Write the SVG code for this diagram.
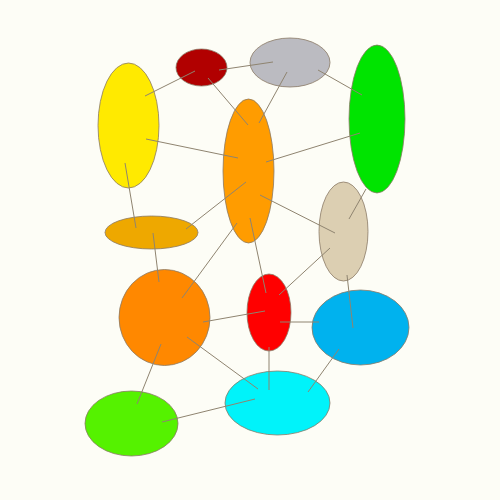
<svg xmlns="http://www.w3.org/2000/svg" width="500" height="500" viewBox="0 0 500 500">
<style>
.n{stroke:#8a7a66;stroke-width:0.8}
.e line{stroke:#8f8470;stroke-width:1}
</style>
<rect width="500" height="500" fill="#fdfdf6"/>
<g id="nodes">
<g id="n_yellow"><ellipse class="n" cx="128.5" cy="125.5" rx="30.5" ry="62.5" fill="#ffea00"/></g>
<g id="n_darkred"><ellipse class="n" cx="201.5" cy="67.5" rx="25.5" ry="18.5" fill="#b10000"/></g>
<g id="n_gray"><ellipse class="n" cx="290" cy="62.5" rx="40" ry="24.5" fill="#bbbbc1"/></g>
<g id="n_green"><ellipse class="n" cx="377" cy="119" rx="28" ry="74" fill="#00e400"/></g>
<g id="n_orange"><ellipse class="n" cx="248.5" cy="171" rx="25.5" ry="72" fill="#ff9c00"/></g>
<g id="n_tan"><ellipse class="n" cx="343.5" cy="231.5" rx="24.5" ry="49.5" fill="#dccfb2"/></g>
<g id="n_gold"><ellipse class="n" cx="151.5" cy="232.5" rx="46.5" ry="16.5" fill="#eea800"/></g>
<g id="n_bigorange"><ellipse class="n" cx="164.5" cy="317.5" rx="45.5" ry="48" fill="#ff8800"/></g>
<g id="n_red"><ellipse class="n" cx="269" cy="312.5" rx="22" ry="38.5" fill="#ff0000"/></g>
<g id="n_blue"><ellipse class="n" cx="360.5" cy="327.5" rx="48.5" ry="37.5" fill="#00b2ee"/></g>
<g id="n_cyan"><ellipse class="n" cx="277.5" cy="403" rx="52.5" ry="32" fill="#00f3fa"/></g>
<g id="n_lime"><ellipse class="n" cx="131.5" cy="423.5" rx="46.5" ry="32.5" fill="#55f200"/></g>
</g>
<g id="edges" class="e">
<line x1="145" y1="96" x2="195" y2="71"/>
<line x1="219" y1="70" x2="273" y2="62"/>
<line x1="208" y1="78" x2="248" y2="125"/>
<line x1="287" y1="72" x2="259" y2="123"/>
<line x1="318" y1="70" x2="362" y2="95"/>
<line x1="146" y1="139" x2="238" y2="158"/>
<line x1="360" y1="133" x2="266" y2="162"/>
<line x1="125" y1="163" x2="136" y2="228"/>
<line x1="246" y1="182" x2="186" y2="229"/>
<line x1="260" y1="195" x2="335" y2="233"/>
<line x1="366" y1="189" x2="349" y2="219"/>
<line x1="153" y1="233" x2="159" y2="282"/>
<line x1="237" y1="223" x2="182" y2="298"/>
<line x1="250" y1="218" x2="266" y2="293"/>
<line x1="330" y1="248" x2="279" y2="295"/>
<line x1="347" y1="275" x2="353" y2="328"/>
<line x1="203" y1="322" x2="265" y2="311"/>
<line x1="280" y1="322" x2="319" y2="322"/>
<line x1="187" y1="337" x2="258" y2="389"/>
<line x1="269" y1="347" x2="269" y2="390"/>
<line x1="339" y1="349" x2="308" y2="392"/>
<line x1="161" y1="344" x2="137" y2="404"/>
<line x1="162" y1="422" x2="255" y2="399"/>
</g>
</svg>
